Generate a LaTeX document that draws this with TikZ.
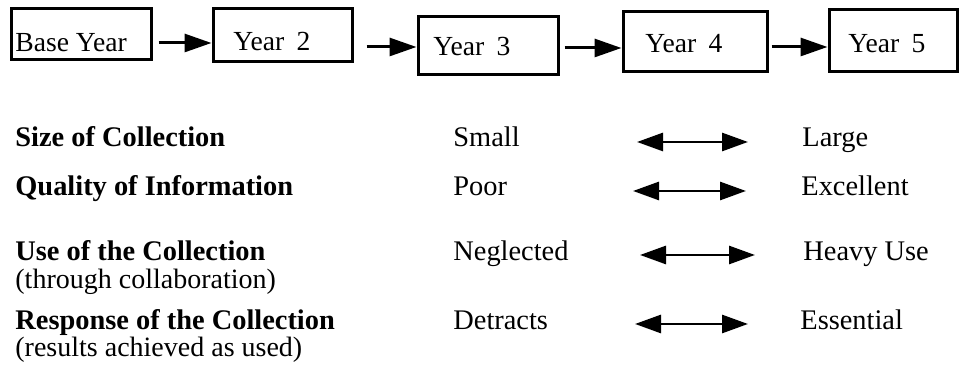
\documentclass[tikz,border=0pt]{standalone}
\usepackage{fontspec}
\setmainfont{Liberation Serif}
\usetikzlibrary{arrows.meta}
\begin{document}
\begin{tikzpicture}[x=0.5pt,y=-0.5pt,
  yearbox/.style={draw, line width=1.5pt, rectangle, inner sep=0pt},
  boxtext/.style={anchor=base west, inner sep=0pt, font=\fontsize{13.8}{16}\selectfont},
  rowtext/.style={anchor=base west, inner sep=0pt, font=\fontsize{14.2}{16}\selectfont},
  subtext/.style={anchor=base west, inner sep=0pt, font=\fontsize{14}{16}\selectfont},
  stepline/.style={line width=1.5pt, -{Triangle[length=13.5pt,width=9pt]}},
  scaleline/.style={line width=1.4pt, {Triangle[length=13pt,width=9pt]}-{Triangle[length=13pt,width=9pt]}}]
\useasboundingbox (0,0) rectangle (959,383);

% top boxes
\node[yearbox, minimum width=70pt, minimum height=25.5pt] (b1) at (81,34.5) {};
\node[yearbox, minimum width=69.5pt, minimum height=26.5pt] (b2) at (282.5,35.5) {};
\node[yearbox, minimum width=70pt, minimum height=29pt] (b3) at (488,46) {};
\node[yearbox, minimum width=72pt, minimum height=30pt] (b4) at (695,42) {};
\node[yearbox, minimum width=64pt, minimum height=31pt] (b5) at (893,41) {};

\node[boxtext] (t1) at (15,52) {Base Year};
\node[boxtext] (t2) at (233,51) {Year\hspace{0.45em}2};
\node[boxtext] (t3) at (433,56) {Year\hspace{0.45em}3};
\node[boxtext] (t4) at (645,53) {Year\hspace{0.45em}4};
\node[boxtext] (t5) at (848,53) {Year\hspace{0.45em}5};

\coordinate (y1) at (0,43);
\coordinate (y2) at (0,47);
\coordinate (y3) at (0,48);
\coordinate (y4) at (0,47);
\draw[stepline, shorten <=3pt] (b1.east |- y1) -- (b2.west |- y1);
\draw[stepline, shorten <=6.5pt] (b2.east |- y2) -- (b3.west |- y2);
\draw[stepline, shorten <=2.5pt] (b3.east |- y3) -- (b4.west |- y3);
\draw[stepline, shorten <=1.5pt] (b4.east |- y4) -- (b5.west |- y4);

% rows
\node[rowtext] (h1) at (15,147) {\textbf{Size of Collection}};
\node[rowtext] (h2) at (15,196) {\textbf{Quality of Information}};
\node[rowtext] (h3) at (15,261) {\textbf{Use of the Collection}};
\node[subtext] (s3) at (15,289) {(through collaboration)};
\node[rowtext] (h4) at (15,330) {\textbf{Response of the Collection}};
\node[subtext] (s4) at (15,357) {(results achieved as used)};

\node[rowtext] (lo1) at (453,147) {Small};
\node[rowtext] (lo2) at (453,196) {Poor};
\node[rowtext] (lo3) at (453,261) {Neglected};
\node[rowtext] (lo4) at (453,330) {Detracts};

\node[rowtext] (hi1) at (802,147) {Large};
\node[rowtext] (hi2) at (801,196) {Excellent};
\node[rowtext] (hi3) at (803,261) {Heavy Use};
\node[rowtext] (hi4) at (800,330) {Essential};

\coordinate (a1l) at (637,142);
\coordinate (a1r) at (748,142);
\coordinate (a2l) at (633,191);
\coordinate (a2r) at (746,191);
\coordinate (a3l) at (640,255);
\coordinate (a3r) at (755,255);
\coordinate (a4l) at (635,324);
\coordinate (a4r) at (748,324);
\draw[scaleline] (a1l) -- (a1r);
\draw[scaleline] (a2l) -- (a2r);
\draw[scaleline] (a3l) -- (a3r);
\draw[scaleline] (a4l) -- (a4r);
\end{tikzpicture}
\end{document}
